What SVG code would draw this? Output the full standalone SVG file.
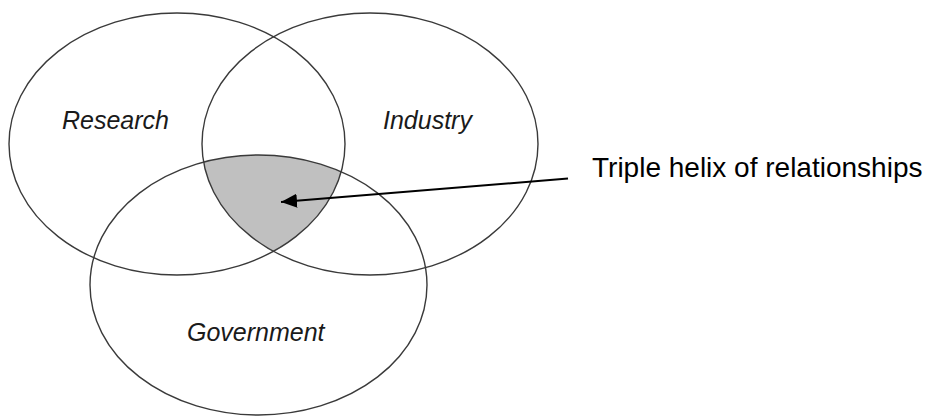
<svg xmlns="http://www.w3.org/2000/svg" width="937" height="416" viewBox="0 0 937 416">
<style>
.c{fill:none;stroke:#3a3a3a;stroke-width:1.4}
.lbl{font-family:"Liberation Sans",Arial,sans-serif;font-style:italic;font-size:25px;fill:#1a1a1a}
.cap{font-family:"Liberation Sans",Arial,sans-serif;font-size:28px;fill:#000}
</style>
<defs>
<clipPath id="clipR"><ellipse cx="177" cy="144" rx="168" ry="131"/></clipPath>
<clipPath id="clipI"><ellipse cx="370" cy="144" rx="168" ry="131"/></clipPath>
<marker id="ah" viewBox="0 0 16 14" refX="16" refY="7" markerWidth="16" markerHeight="14" markerUnits="userSpaceOnUse" orient="auto">
<path d="M0,0 L16,7 L0,14 Z" fill="#000"/>
</marker>
</defs>
<rect width="937" height="416" fill="#fff"/>
<g id="shade" clip-path="url(#clipR)"><g clip-path="url(#clipI)"><ellipse cx="258.5" cy="285" rx="168.5" ry="130" fill="#c0c0c0"/></g></g>
<g id="research"><ellipse class="c" cx="177" cy="144" rx="168" ry="131"/><text class="lbl" x="62" y="129">Research</text></g>
<g id="industry"><ellipse class="c" cx="370" cy="144" rx="168" ry="131"/><text class="lbl" x="383" y="129">Industry</text></g>
<g id="government"><ellipse class="c" cx="258.5" cy="285" rx="168.5" ry="130"/><text class="lbl" x="187" y="341">Government</text></g>
<g id="connectors"><line x1="568" y1="178.5" x2="281" y2="202" stroke="#000" stroke-width="2" marker-end="url(#ah)"/></g>
<g id="caption"><text class="cap" x="592" y="177">Triple helix of relationships</text></g>
</svg>
